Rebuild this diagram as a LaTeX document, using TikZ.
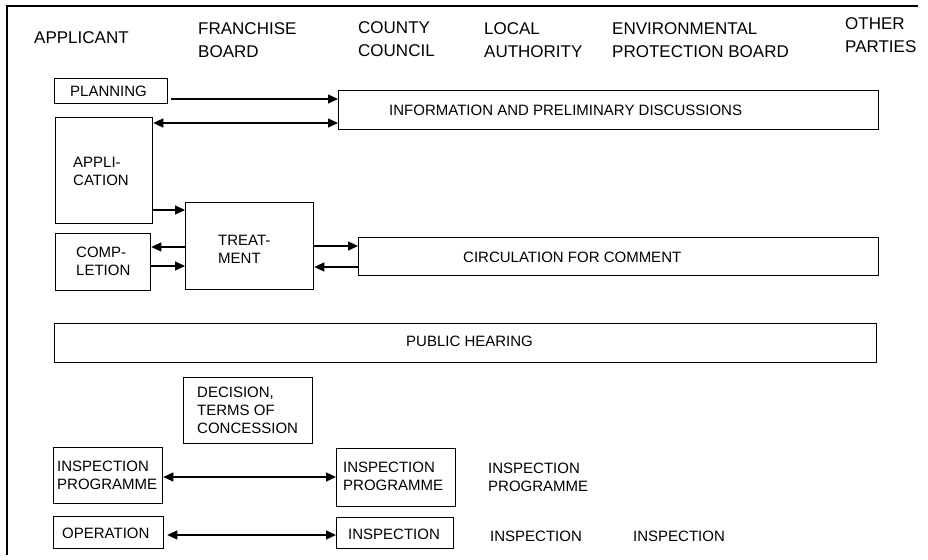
\documentclass[tikz,border=0pt]{standalone}
\usepackage{fontspec}
\setmainfont{Liberation Sans}
\usetikzlibrary{arrows.meta}
\begin{document}
\begin{tikzpicture}[x=1pt,y=-1pt,
  box/.style={draw, line width=1.3pt, inner sep=0pt, anchor=north west},
  txt/.style={font=\fontsize{15}{18}\selectfont, align=left, inner sep=0pt, anchor=west},
  head/.style={font=\fontsize{17}{23}\selectfont, align=left, inner sep=0pt, anchor=west},
  tip/.style={},
  arr/.style={line width=1.3pt, -{Triangle[length=10pt,width=9pt]}},
  darr/.style={line width=1.3pt, {Triangle[length=10pt,width=9pt]}-{Triangle[length=10pt,width=9pt]}}]
\useasboundingbox (0,0) rectangle (928,559);
% frame
\draw[line width=1.3pt] (7,555) -- (7,6) -- (918,6);
% headers
\node[head] (h1) at (34,38) {APPLICANT};
\node[head] (h2) at (198,40) {FRANCHISE\\BOARD};
\node[head] (h3) at (358,39) {COUNTY\\COUNCIL};
\node[head] (h4) at (484,40) {LOCAL\\AUTHORITY};
\node[head] (h5) at (612,40) {ENVIRONMENTAL\\PROTECTION BOARD};
\node[head] (h6) at (845,35) {OTHER\\PARTIES};
% boxes
\node[box, minimum width=113pt, minimum height=25pt] (plan) at (54,78) {};
\node[txt] (tplan) at (70,91) {PLANNING};
\node[box, minimum width=97pt, minimum height=106pt] (app) at (55,117) {};
\node[txt] (tapp) at (73,171) {APPLI-\\CATION};
\node[box, minimum width=540pt, minimum height=39pt] (info) at (338,90) {};
\node[txt] (tinfo) at (389,110) {INFORMATION AND PRELIMINARY DISCUSSIONS};
\node[box, minimum width=128pt, minimum height=87pt] (treat) at (185,202) {};
\node[txt] (ttreat) at (218,249) {TREAT-\\MENT};
\node[box, minimum width=95pt, minimum height=57pt] (comp) at (55,233) {};
\node[txt] (tcomp) at (76,261) {COMP-\\LETION};
\node[box, minimum width=520pt, minimum height=38pt] (circ) at (358,237) {};
\node[txt] (tcirc) at (463,257) {CIRCULATION FOR COMMENT};
\node[box, minimum width=822pt, minimum height=39pt] (pub) at (54,323) {};
\node[txt] (tpub) at (406,341) {PUBLIC HEARING};
\node[box, minimum width=129pt, minimum height=66pt] (dec) at (183,377) {};
\node[txt] (tdec) at (197,410) {DECISION,\\TERMS OF\\CONCESSION};
\node[box, minimum width=109pt, minimum height=56pt] (ipa) at (53,447) {};
\node[txt] (tipa) at (57,475) {INSPECTION\\PROGRAMME};
\node[box, minimum width=119pt, minimum height=58pt] (ipb) at (336,448) {};
\node[txt] (tipb) at (343,476) {INSPECTION\\PROGRAMME};
\node[txt] (tipc) at (488,477) {INSPECTION\\PROGRAMME};
\node[box, minimum width=110pt, minimum height=32pt] (op) at (53,516) {};
\node[txt] (top) at (62,533) {OPERATION};
\node[box, minimum width=117pt, minimum height=31pt] (insp) at (336,517) {};
\node[txt] (tinsp) at (348,534) {INSPECTION};
\node[txt] (tinspc) at (490,536) {INSPECTION};
\node[txt] (tinspd) at (633,536) {INSPECTION};
% arrow levels
\coordinate (y1) at (0,99);
\coordinate (y2) at (0,123);
\coordinate (y3) at (0,210);
\coordinate (y4) at (0,247);
\coordinate (y5) at (0,266);
\coordinate (y6) at (0,246);
\coordinate (y7) at (0,267);
\coordinate (y8) at (0,477);
\coordinate (y9) at (0,535);
% connectors
\draw[arr] ([xshift=3pt]plan.east |- y1) -- (info.west |- y1);
\draw[darr] (app.east |- y2) -- (info.west |- y2);
\draw[arr] (app.east |- y3) -- (treat.west |- y3);
\draw[arr] (treat.west |- y4) -- (comp.east |- y4);
\draw[arr] (comp.east |- y5) -- (treat.west |- y5);
\draw[arr] (treat.east |- y6) -- (circ.west |- y6);
\draw[arr] (circ.west |- y7) -- (treat.east |- y7);
\draw[darr] (ipa.east |- y8) -- (ipb.west |- y8);
\draw[darr] ([xshift=3pt]op.east |- y9) -- (insp.west |- y9);
\end{tikzpicture}
\end{document}
